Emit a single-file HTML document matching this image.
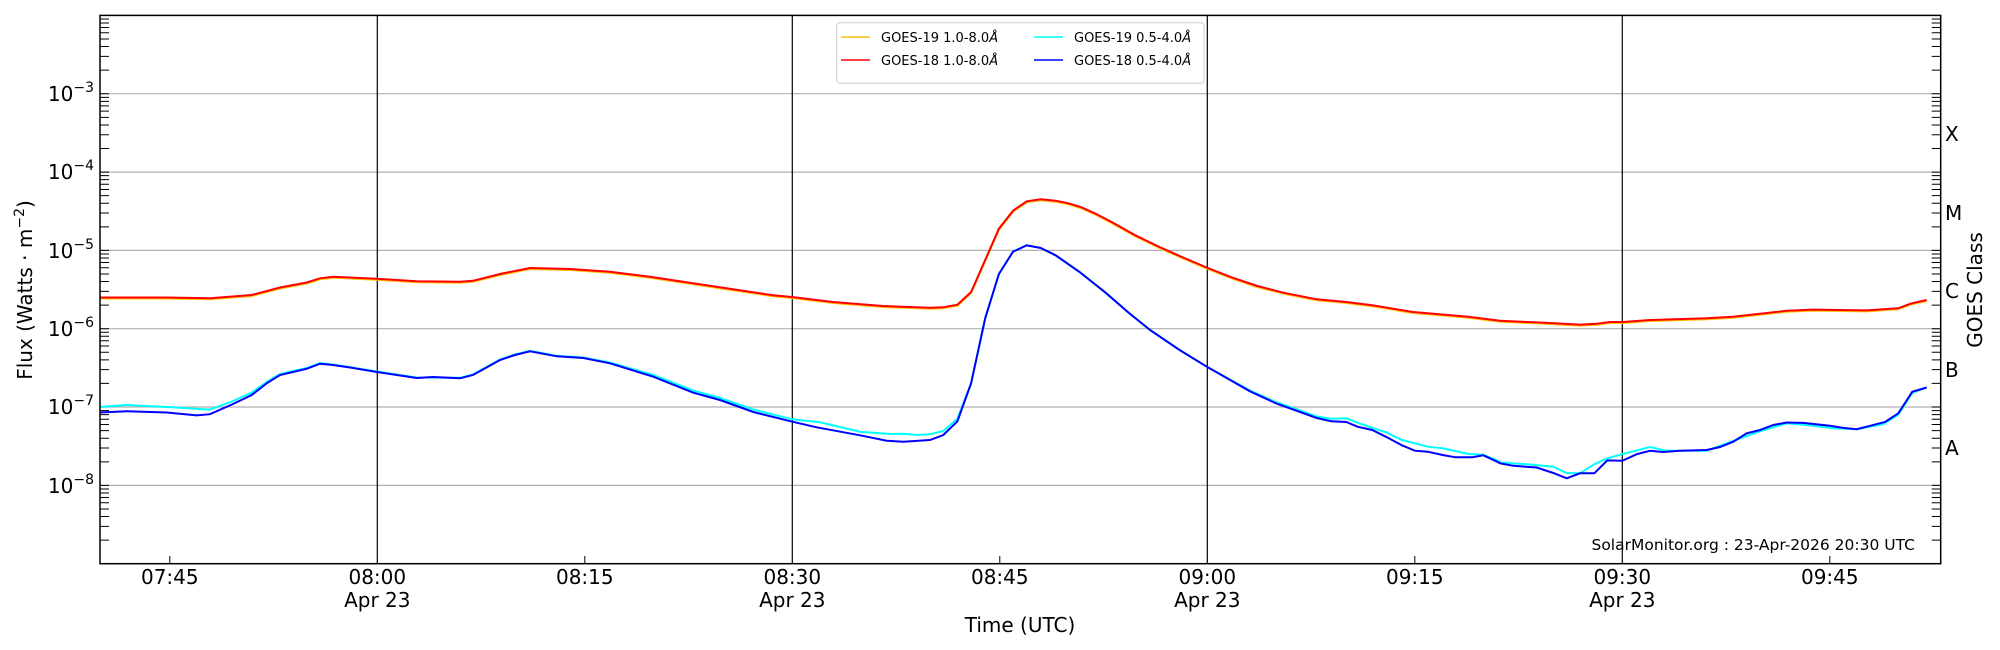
<!DOCTYPE html>
<html><head><meta charset="utf-8"><style>
html,body{margin:0;padding:0;background:#fff;}
svg{display:block;font-family:"DejaVu Sans","Liberation Sans",sans-serif;}
</style></head><body>
<svg width="2000" height="650" viewBox="0 0 2000 650" xmlns="http://www.w3.org/2000/svg">
<defs>
<path id="decL" d="M0 -23.58h9M0 -37.37h9M0 -47.16h9M0 -54.75h9M0 -60.95h9M0 -66.19h9M0 -70.74h9M0 -74.75h9M0 0h9" stroke="#000" stroke-width="1" fill="none"/>
<path id="decR" d="M0 -23.58h-9M0 -37.37h-9M0 -47.16h-9M0 -54.75h-9M0 -60.95h-9M0 -66.19h-9M0 -70.74h-9M0 -74.75h-9M0 0h-9" stroke="#000" stroke-width="1" fill="none"/>
</defs>
<g stroke="#b0b0b0" stroke-width="1.2">
<line x1="100" x2="1941" y1="93.7" y2="93.7"/>
<line x1="100" x2="1941" y1="172.1" y2="172.1"/>
<line x1="100" x2="1941" y1="250.4" y2="250.4"/>
<line x1="100" x2="1941" y1="328.7" y2="328.7"/>
<line x1="100" x2="1941" y1="407" y2="407"/>
<line x1="100" x2="1941" y1="485.4" y2="485.4"/>
</g>
<g stroke="#000" stroke-width="1.2">
<line x1="377.3" x2="377.3" y1="15" y2="564"/>
<line x1="792.3" x2="792.3" y1="15" y2="564"/>
<line x1="1207.3" x2="1207.3" y1="15" y2="564"/>
<line x1="1622.3" x2="1622.3" y1="15" y2="564"/>
</g>
<g transform="translate(100,0)">
<use href="#decL" y="563.7"/><use href="#decL" y="485.4"/><use href="#decL" y="407"/><use href="#decL" y="328.7"/><use href="#decL" y="250.4"/><use href="#decL" y="172.1"/><use href="#decL" y="93.7"/>
</g>
<g transform="translate(1940.7,0)">
<use href="#decR" y="563.7"/><use href="#decR" y="485.4"/><use href="#decR" y="407"/><use href="#decR" y="328.7"/><use href="#decR" y="250.4"/><use href="#decR" y="172.1"/><use href="#decR" y="93.7"/>
</g>
<g stroke="#000" stroke-width="1">
<line x1="169.8" x2="169.8" y1="564" y2="556"/>
<line x1="584.8" x2="584.8" y1="564" y2="556"/>
<line x1="999.8" x2="999.8" y1="564" y2="556"/>
<line x1="1414.8" x2="1414.8" y1="564" y2="556"/>
<line x1="1829.8" x2="1829.8" y1="564" y2="556"/>
</g>
<!-- cyan GOES-19 short -->
<polyline fill="none" stroke="#00ffff" stroke-width="2" points="100,407 126.7,405 166.7,407 210,409.6 233,401 251.7,392.5 266.7,382 280,374 306.7,368 320,363 333,364.5 377,371.5 416.7,377.5 460,377.8 473,374.5 500,359.5 515,354.5 530,350.8 556.7,355.8 583.3,357.5 610,362.5 653.3,375 693.3,390.5 720,398 753.3,409.5 792.3,419.3 820,422.3 860,431.7 890,434 903.3,433.7 916.7,435 930,434.3 943.3,431 957.3,418.7 971.1,383.3 985.2,318.3 998.9,274 1013,251.7 1026.7,245.3 1040.7,248 1055.6,255.3 1079.6,272 1105.6,292.7 1127.8,312 1150,330 1179.6,350 1207.8,367.3 1250,390.5 1275.9,402 1316.7,416.5 1331.5,418.7 1346.3,418.3 1361.1,424 1387,432.7 1401.9,440 1427.8,446.7 1442.6,448.3 1468.5,454 1483.3,454.7 1498,460.7 1500,462.5 1526.7,464.2 1553.3,466.7 1566.7,473 1580,473.3 1594.3,464.2 1607.3,458.3 1622.3,454.2 1650,447 1666.7,450.8 1706.7,450.8 1733.3,440.8 1760,431.25 1786.7,423.3 1813.3,425.8 1833.3,428.3 1856.7,429.2 1883.3,424.2 1898.3,414.6 1912.3,393 1926.7,387.5"/>
<!-- blue GOES-18 short -->
<polyline fill="none" stroke="#0000ff" stroke-width="2" points="100,412.5 126.7,411.25 166.7,412.5 196.7,415.4 210,414.2 233,404 251.7,395 266.7,383.3 280,375 293,372 306.7,368.75 320,363.75 333,365 350,367.5 377,372 416.7,378 433,377 460,378.3 473,375 500,360 515,355 530,351.3 556.7,356.3 583.3,358 610,363.3 653.3,376.7 693.3,392.7 720,400 753.3,412 792.3,421.7 816.7,427.3 860,435.3 886.7,440.7 903.3,441.7 930,440 943.3,435 957.4,421.3 971.1,383.3 985.2,318.3 998.9,274 1013,251.7 1026.7,245.3 1040.7,248 1055.6,255.3 1079.6,272 1105.6,292.7 1127.8,312 1150,330 1179.6,350 1207.8,367.3 1250,391.3 1275.9,403.3 1316.7,418 1331.5,421.3 1346.3,422 1357.4,426.7 1372.2,430 1387,437.3 1401.9,445.3 1414.8,450.7 1427.8,451.7 1442.6,455 1455.6,457.3 1472.2,457.3 1483.3,455.3 1496.3,461.3 1500,463.3 1513.3,465.8 1536.7,467.5 1553.3,473 1566.7,478.3 1580,473.3 1594.3,473.3 1607.3,460.4 1622.3,460.8 1636.7,454.2 1650,450.8 1663.3,452 1680,450.8 1706.7,450 1720,447 1733.3,441.7 1746.7,433.3 1760,430 1773.3,425 1786.7,422.5 1803.3,422.9 1830,425.8 1843.3,427.9 1856.7,429.2 1870,425.8 1885,422 1898.3,413.3 1912.3,391.7 1926.7,387.5"/>
<!-- red / orange long -->
<g fill="none" stroke-width="2">
<polyline id="lng" stroke="#ffc000" transform="translate(0,1)" points="100,297.5 166.7,297.5 210,298.3 251.7,295 280,287.5 306.7,282.5 320,278.3 333,276.7 377,278.75 416.7,281.25 460,281.7 473,280.8 500,274 530,268 570,269 610,271.7 650,276.7 693,283.3 733,289.3 773,295.3 792,297 833,302 883,306 930,307.7 943,307.3 957.4,304.7 971.1,292 985.2,260 998.9,228.7 1013,210.7 1026.7,201.3 1040.7,199.3 1055.6,200.7 1068.5,203.3 1081.5,207.3 1096.3,214 1113,222.7 1135.2,235.3 1157.4,246 1179.6,256 1207.8,268 1231.5,277.3 1257.4,286 1283.3,292.7 1316.7,299.3 1346.3,302 1372.2,305.3 1413,312 1468.5,316.7 1500,320.8 1540,322.5 1580,324.6 1596.7,323.75 1610,322 1623,322 1650,320 1706.7,318.3 1733,316.7 1786.7,310.8 1813,309.6 1866.7,310.4 1898,308.3 1911.7,303.3 1926.7,300"/>
<polyline stroke="#ff0000" points="100,297.5 166.7,297.5 210,298.3 251.7,295 280,287.5 306.7,282.5 320,278.3 333,276.7 377,278.75 416.7,281.25 460,281.7 473,280.8 500,274 530,268 570,269 610,271.7 650,276.7 693,283.3 733,289.3 773,295.3 792,297 833,302 883,306 930,307.7 943,307.3 957.4,304.7 971.1,292 985.2,260 998.9,228.7 1013,210.7 1026.7,201.3 1040.7,199.3 1055.6,200.7 1068.5,203.3 1081.5,207.3 1096.3,214 1113,222.7 1135.2,235.3 1157.4,246 1179.6,256 1207.8,268 1231.5,277.3 1257.4,286 1283.3,292.7 1316.7,299.3 1346.3,302 1372.2,305.3 1413,312 1468.5,316.7 1500,320.8 1540,322.5 1580,324.6 1596.7,323.75 1610,322 1623,322 1650,320 1706.7,318.3 1733,316.7 1786.7,310.8 1813,309.6 1866.7,310.4 1898,308.3 1911.7,303.3 1926.7,300"/>
</g>
<rect x="100" y="15.4" width="1840.7" height="548.3" fill="none" stroke="#000" stroke-width="1.5"/>
<!-- legend -->
<rect x="836.7" y="22.7" width="367.3" height="60.6" rx="3" fill="#fff" fill-opacity="0.8" stroke="#ccc" stroke-width="1"/>
<g stroke-width="1.5">
<line x1="841" x2="870" y1="37" y2="37" stroke="#ffc000"/>
<line x1="841" x2="870" y1="60" y2="60" stroke="#ff0000"/>
<line x1="1034" x2="1063" y1="37" y2="37" stroke="#00ffff"/>
<line x1="1034" x2="1063" y1="60" y2="60" stroke="#0000ff"/>
</g>
<g font-size="13" fill="#000">
<text x="881" y="42">GOES-19 1.0-8.0<tspan font-style="italic">Å</tspan></text>
<text x="881" y="65">GOES-18 1.0-8.0<tspan font-style="italic">Å</tspan></text>
<text x="1074" y="42">GOES-19 0.5-4.0<tspan font-style="italic">Å</tspan></text>
<text x="1074" y="65">GOES-18 0.5-4.0<tspan font-style="italic">Å</tspan></text>
</g>
<g font-size="20" fill="#000" text-anchor="end">
<text x="94" y="101">10<tspan dy="-9" font-size="14">−3</tspan></text>
<text x="94" y="179">10<tspan dy="-9" font-size="14">−4</tspan></text>
<text x="94" y="258">10<tspan dy="-9" font-size="14">−5</tspan></text>
<text x="94" y="336">10<tspan dy="-9" font-size="14">−6</tspan></text>
<text x="94" y="414">10<tspan dy="-9" font-size="14">−7</tspan></text>
<text x="94" y="493">10<tspan dy="-9" font-size="14">−8</tspan></text>
</g>
<text transform="translate(32,290) rotate(-90)" font-size="20" text-anchor="middle">Flux (Watts · m<tspan dy="-8" font-size="14">−2</tspan><tspan dy="8">)</tspan></text>
<g font-size="20" fill="#000">
<text x="1945" y="141">X</text>
<text x="1945" y="220">M</text>
<text x="1945" y="298">C</text>
<text x="1945" y="377">B</text>
<text x="1945" y="455">A</text>
</g>
<text transform="translate(1982,290) rotate(-90)" font-size="20" text-anchor="middle">GOES Class</text>
<g font-size="20" fill="#000" text-anchor="middle">
<text x="169.8" y="584">07:45</text>
<text x="377.3" y="584">08:00</text><text x="377.3" y="607">Apr 23</text>
<text x="584.8" y="584">08:15</text>
<text x="792.3" y="584">08:30</text><text x="792.3" y="607">Apr 23</text>
<text x="999.8" y="584">08:45</text>
<text x="1207.3" y="584">09:00</text><text x="1207.3" y="607">Apr 23</text>
<text x="1414.8" y="584">09:15</text>
<text x="1622.3" y="584">09:30</text><text x="1622.3" y="607">Apr 23</text>
<text x="1829.8" y="584">09:45</text>
<text x="1020" y="632">Time (UTC)</text>
</g>
<text x="1915" y="550" font-size="15.5" text-anchor="end">SolarMonitor.org : 23-Apr-2026 20:30 UTC</text>
</svg>
</body></html>
